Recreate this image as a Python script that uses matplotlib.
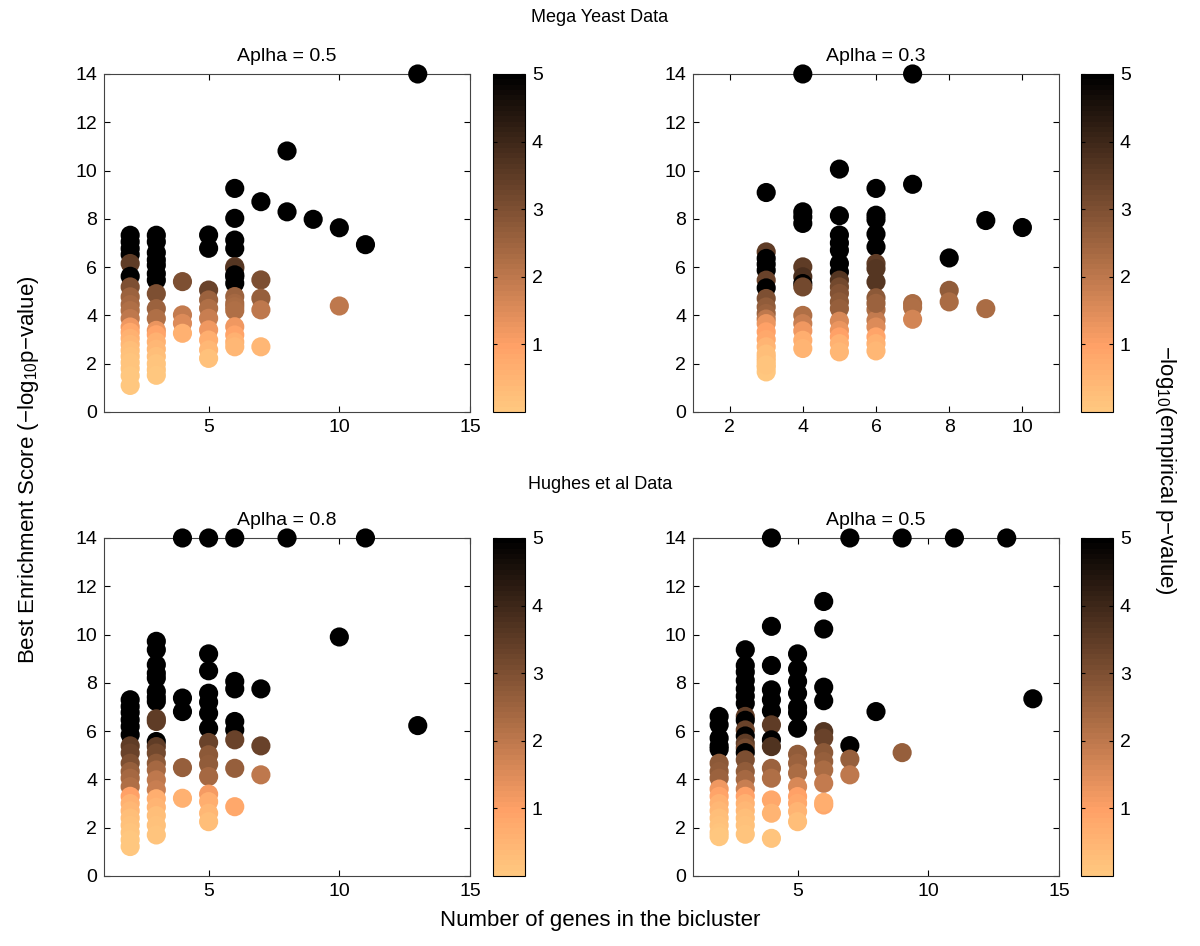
import numpy as np
import matplotlib
matplotlib.use("Agg")
import matplotlib.pyplot as plt

plt.rcParams["font.family"] = ["Liberation Sans", "DejaVu Sans"]
plt.rcParams["mathtext.fontset"] = "custom"
plt.rcParams["mathtext.rm"] = "Liberation Sans"
plt.rcParams["mathtext.it"] = "Liberation Sans"

# Mega Yeast, alpha = 0.5
my05_x = [2]*21 + [3]*18 + [4]*4 + [5]*10 + [6]*17 + [7]*5 + [8, 8, 9, 10, 10, 11, 13]
my05_y = [7.32, 7.05, 6.77, 6.52, 6.15, 5.62, 5.18, 4.77, 4.45, 4.2, 3.87, 3.52,
          3.3, 3.05, 2.8, 2.55, 2.3, 2.05, 1.8, 1.5, 1.1,
          7.32, 7.05, 6.6, 6.3, 6.08, 5.73, 5.46, 4.9, 4.28, 3.87, 3.38,
          3.2, 2.9, 2.6, 2.3, 2.0, 1.75, 1.52,
          5.40, 4.02, 3.67, 3.26,
          7.33, 6.78, 5.05, 4.64, 4.29, 3.88, 3.40, 2.98, 2.57, 2.22,
          9.26, 8.02, 7.12, 6.77, 6.02, 5.95, 5.68, 5.6, 5.33, 4.78, 4.5, 4.36, 4.2,
          3.53, 3.19, 2.9, 2.70,
          8.71, 5.47, 4.71, 4.23, 2.70,
          10.81, 8.29, 7.98, 7.63, 4.39, 6.93, 14.0]
my05_c = [5, 5, 5, 5, 3.5, 5, 3.0, 2.5, 2.4, 2.2, 2.0, 1.2,
          0.8, 0.6, 0.4, 0.3, 0.2, 0.15, 0.1, 0.05, 0.02,
          5, 5, 5, 5, 5, 5, 5, 3.0, 2.5, 2.2, 1.3,
          0.9, 0.6, 0.4, 0.25, 0.15, 0.08, 0.05,
          3.0, 1.9, 1.5, 0.6,
          5, 5, 3.3, 2.5, 2.2, 1.8, 1.2, 0.7, 0.4, 0.2,
          5, 5, 5, 5, 3.5, 3.6, 5, 5, 5, 2.5, 2.4, 2.3, 2.2,
          1.2, 0.9, 0.6, 0.4,
          5, 3.0, 2.6, 2.0, 0.4,
          5, 5, 5, 5, 2.0, 5, 5]

# Mega Yeast, alpha = 0.3
my03_x = [3]*21 + [4]*13 + [5]*17 + [6]*16 + [7]*5 + [8]*3 + [9]*2 + [10]
my03_y = [9.09, 6.63, 6.36, 6.12, 5.87, 5.46, 5.14, 4.70, 4.35, 4.08, 3.85, 3.66,
          3.32, 3.0, 2.7, 2.4, 2.1, 1.85, 1.66, 2.25, 1.95,
          14.0, 8.29, 8.08, 7.81, 6.01, 5.6, 5.32, 5.18, 4.0, 3.66, 3.36, 2.97, 2.63,
          10.06, 8.13, 7.33, 7.0, 6.70, 6.15, 5.80, 5.46, 5.18, 4.91, 4.56, 4.28,
          3.76, 3.38, 3.11, 2.83, 2.49,
          9.26, 8.15, 7.97, 7.37, 6.84, 6.15, 5.94, 5.39, 4.73, 4.24, 3.80, 3.52,
          3.11, 2.83, 2.53, 4.5,
          14.0, 9.43, 4.49, 4.33, 3.84,
          6.38, 5.04, 4.56,
          7.93, 4.28,
          7.64]
my03_c = [5, 3.5, 5, 5, 5, 3.3, 5, 3.0, 2.7, 2.5, 2.0, 1.3,
          1.0, 0.8, 0.5, 0.3, 0.2, 0.1, 0.05, 0.25, 0.15,
          5, 5, 5, 5, 3.5, 3.8, 5, 3.2, 2.2, 1.8, 1.2, 0.7, 0.5,
          5, 5, 5, 5, 5, 5, 5, 3.6, 3.2, 2.9, 2.8, 2.6,
          1.6, 1.3, 1.0, 0.6, 0.4,
          5, 5, 5, 5, 5, 3.5, 3.6, 3.6, 2.8, 2.3, 1.9, 1.5,
          0.9, 0.6, 0.4, 2.5,
          5, 5, 2.3, 2.2, 1.7,
          5, 2.7, 2.3,
          5, 2.3,
          5]

# Hughes et al, alpha = 0.8
hu08_x = [2]*20 + [3]*22 + [4]*5 + [5]*15 + [6]*8 + [7]*3 + [8, 10, 11, 13]
hu08_y = [7.30, 7.02, 6.77, 6.47, 6.19, 5.85, 5.39, 5.09, 4.67, 4.33, 4.05, 3.70,
          3.3, 3.0, 2.7, 2.4, 2.1, 1.8, 1.5, 1.22,
          9.72, 9.37, 8.75, 8.40, 7.64, 7.23, 6.51, 6.40, 5.57, 5.36, 5.09, 4.67,
          4.39, 3.98, 3.57, 3.2, 2.85, 2.5, 2.1, 1.70, 8.2, 7.4,
          14.0, 7.37, 6.81, 4.49, 3.22,
          14.0, 9.2, 8.5, 7.57, 7.2, 6.74, 6.12, 5.53, 5.02, 4.63, 4.12, 3.39, 3.08,
          2.6, 2.25,
          14.0, 8.06, 7.75, 6.40, 6.05, 5.64, 4.46, 2.87,
          7.75, 5.39, 4.19,
          14.0, 9.9, 14.0, 6.23]
hu08_c = [5, 5, 5, 5, 5, 5, 3.5, 3.3, 3.0, 2.6, 2.4, 2.2,
          1.0, 0.6, 0.4, 0.3, 0.2, 0.1, 0.05, 0.02,
          5, 5, 5, 5, 5, 5, 3.5, 3.5, 5, 3.5, 3.2, 2.8,
          2.4, 2.0, 1.8, 0.7, 0.5, 0.3, 0.2, 0.1, 5, 5,
          5, 5, 5, 2.6, 0.6,
          5, 5, 5, 5, 5, 5, 5, 3.3, 2.8, 2.7, 2.4, 1.1, 0.7,
          0.4, 0.3,
          5, 5, 5, 5, 5, 3.3, 2.6, 0.8,
          5, 3.3, 2.0,
          5, 5, 5, 5]

# Hughes et al, alpha = 0.5
hu05_x = [2]*16 + [3]*24 + [4]*14 + [5]*15 + [6]*12 + [7]*4 + [8, 9, 9, 11, 13, 14]
hu05_y = [6.61, 6.26, 5.71, 5.39, 5.25, 4.67, 4.33, 4.05, 3.6, 3.3, 3.0, 2.7,
          2.4, 2.1, 1.8, 1.63,
          9.37, 8.72, 8.45, 8.1, 7.75, 7.45, 7.15, 6.61, 6.45, 6.05, 5.8, 5.5, 5.3,
          5.11, 4.81, 4.33, 4.0, 3.6, 3.3, 3.0, 2.7, 2.4, 2.1, 1.73,
          14.0, 10.34, 8.72, 7.71, 7.30, 6.84, 6.26, 5.64, 5.36, 4.46, 4.05, 3.15,
          2.6, 1.56,
          9.2, 8.57, 8.06, 7.57, 6.99, 6.77, 6.12, 5.04, 4.67, 4.26, 3.70, 3.29,
          3.01, 2.67, 2.25,
          11.37, 10.23, 7.82, 7.26, 5.98, 5.71, 5.11, 4.74, 4.39, 3.84, 2.94, 3.05,
          14.0, 5.40, 4.84, 4.19,
          6.81, 14.0, 5.11, 14.0, 14.0, 7.34]
hu05_c = [5, 5, 5, 5, 5, 2.8, 2.7, 2.5, 1.2, 0.9, 0.6, 0.4,
          0.3, 0.2, 0.1, 0.05,
          5, 5, 5, 5, 5, 5, 5, 3.5, 5, 3.3, 5, 3.5, 3.2,
          5, 3.0, 2.7, 2.4, 1.8, 1.0, 0.6, 0.4, 0.3, 0.2, 0.1,
          5, 5, 5, 5, 5, 5, 3.5, 5, 3.7, 2.5, 2.2, 0.8,
          0.5, 0.1,
          5, 5, 5, 5, 5, 5, 5, 2.7, 2.5, 2.3, 1.6, 1.0,
          0.8, 0.5, 0.3,
          5, 5, 5, 5, 3.6, 3.3, 2.8, 2.6, 2.3, 1.9, 0.8, 0.7,
          5, 5, 2.6, 2.0,
          5, 5, 2.6, 5, 5, 5]

panels = [
    ("Aplha = 0.5", my05_x, my05_y, my05_c, [1, 15], [5, 10, 15]),
    ("Aplha = 0.3", my03_x, my03_y, my03_c, [1, 11], [2, 4, 6, 8, 10]),
    ("Aplha = 0.8", hu08_x, hu08_y, hu08_c, [1, 15], [5, 10, 15]),
    ("Aplha = 0.5", hu05_x, hu05_y, hu05_c, [1, 15], [5, 10, 15]),
]

cmap = plt.get_cmap("copper_r", 64)
fig = plt.figure(figsize=(12, 9.46), dpi=100)

ax_pos = [(0.0867, 0.5645), (0.5775, 0.5645), (0.0867, 0.074), (0.5775, 0.074)]
cb_left = [0.4108, 0.9008, 0.4108, 0.9008]
w, h = 0.305, 0.3573

for i, (title, xs, ys, cs, xlim, xticks) in enumerate(panels):
    ax = fig.add_axes([ax_pos[i][0], ax_pos[i][1], w, h])
    sc = ax.scatter(xs, np.minimum(ys, 14), c=np.minimum(cs, 5), cmap=cmap,
                    vmin=0, vmax=5, s=190, linewidths=0, clip_on=False, zorder=3)
    ax.set_xlim(xlim)
    ax.set_ylim(0, 14)
    ax.set_xticks(xticks)
    ax.set_yticks(range(0, 15, 2))
    ax.tick_params(direction="in", top=True, right=True, length=4,
                   labelsize=14, pad=5)
    for sp in ax.spines.values():
        sp.set_linewidth(0.8)
        sp.set_color("#444444")
    ax.set_title(title, fontsize=14, pad=9)

    cax = fig.add_axes([cb_left[i], ax_pos[i][1], 0.0267, h])
    cb = fig.colorbar(sc, cax=cax, ticks=[1, 2, 3, 4, 5])
    cb.outline.set_linewidth(0.8)
    cax.tick_params(direction="in", left=True, right=True, length=3,
                    labelsize=14, pad=5)

fig.text(0.5, 0.981, "Mega Yeast Data", ha="center", va="center", fontsize=13)
fig.text(0.5, 0.488, "Hughes et al Data", ha="center", va="center", fontsize=13)
fig.text(0.5, 0.027, "Number of genes in the bicluster", ha="center",
         va="center", fontsize=16)
fig.text(0.024, 0.503, "Best Enrichment Score (\u2212log$_{10}$p\u2212value)",
         ha="center", va="center", rotation=90, fontsize=16)
fig.text(0.971, 0.503, "\u2212log$_{10}$(empirical p\u2212value)",
         ha="center", va="center", rotation=-90, fontsize=16)

plt.savefig("out.png", dpi=100)
